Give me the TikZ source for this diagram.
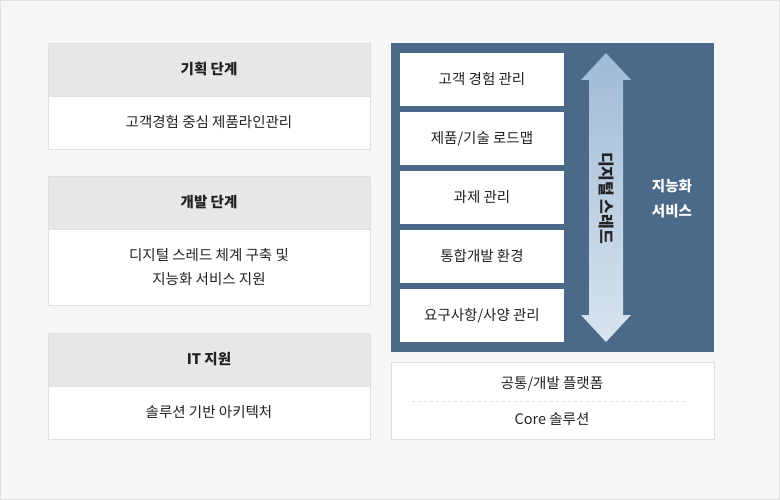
\documentclass[tikz,border=0pt]{standalone}
\usepackage{fontspec}
\setmainfont{Noto Sans CJK KR}
\definecolor{bg}{HTML}{F7F7F7}
\definecolor{bd}{HTML}{E0E0E0}
\definecolor{hd}{HTML}{E8E8E8}
\definecolor{navy}{HTML}{4B6A89}
\definecolor{txt}{HTML}{222222}
\begin{document}
\begin{tikzpicture}[x=1pt,y=-1pt,
  hdr/.style={fill=hd,draw=bd,line width=0.6pt,font=\fontsize{14.5}{17}\selectfont\bfseries,text=txt},
  bod/.style={fill=white,draw=bd,line width=0.6pt,font=\fontsize{14.5}{24}\selectfont,text=txt,align=center},
  wbox/.style={fill=white,draw=none,font=\fontsize{14.5}{17}\selectfont,text=txt},
  ptxt/.style={font=\fontsize{14.5}{17}\selectfont,text=txt}]
\useasboundingbox (0,0) rectangle (780,500);
\fill[bg,draw=bd] (0.5,0.5) rectangle (779.5,499.5);
% left panels
\draw[hdr] (48,43) rectangle node (h1) {기획 단계} (370,96);
\draw[bod] (48,96) rectangle node (b1) {고객경험 중심 제품라인관리} (370,149);
\draw[hdr] (48,176) rectangle node (h2) {개발 단계} (370,229);
\draw[bod] (48,229) rectangle node (b2) {디지털 스레드 체계 구축 및\\지능화 서비스 지원} (370,305);
\draw[hdr] (48,333) rectangle node (h3) {IT 지원} (370,386);
\draw[bod] (48,386) rectangle node (b3) {솔루션 기반 아키텍처} (370,439);
% right
\fill[navy] (391,43) rectangle (714,352);
\draw[wbox] (400,53) rectangle node (r1) {고객 경험 관리} (564,106);
\draw[wbox] (400,112) rectangle node (r2) {제품/기술 로드맵} (564,165);
\draw[wbox] (400,171) rectangle node (r3) {과제 관리} (564,224);
\draw[wbox] (400,230) rectangle node (r4) {통합개발 환경} (564,283);
\draw[wbox] (400,289) rectangle node (r5) {요구사항/사양 관리} (564,342);
\shade[top color={rgb,255:red,160;green,187;blue,214},bottom color={rgb,255:red,216;green,228;blue,238}]
  (606,53) -- (631,80) -- (623,80) -- (623,315) -- (631,315) -- (606,342) -- (581,315) -- (589,315) -- (589,80) -- (581,80) -- cycle;
\node[rotate=-90,font=\fontsize{16}{18}\selectfont\bfseries,text=txt] (dt) at (606,198) {디지털 스레드};
\node[align=center,text=white,font=\fontsize{14.5}{25}\selectfont\bfseries] (ai) at (672,199) {지능화\\서비스};
\draw[fill=white,draw=bd,line width=0.6pt] (391,362) rectangle (714,439);
\node[ptxt] (p1) at (552,384) {공통/개발 플랫폼};
\node[ptxt] (p2) at (552,419) {Core 솔루션};
\draw[bd,dashed,line width=0.8pt] (412,401) -- (688,401);
\end{tikzpicture}
\end{document}
